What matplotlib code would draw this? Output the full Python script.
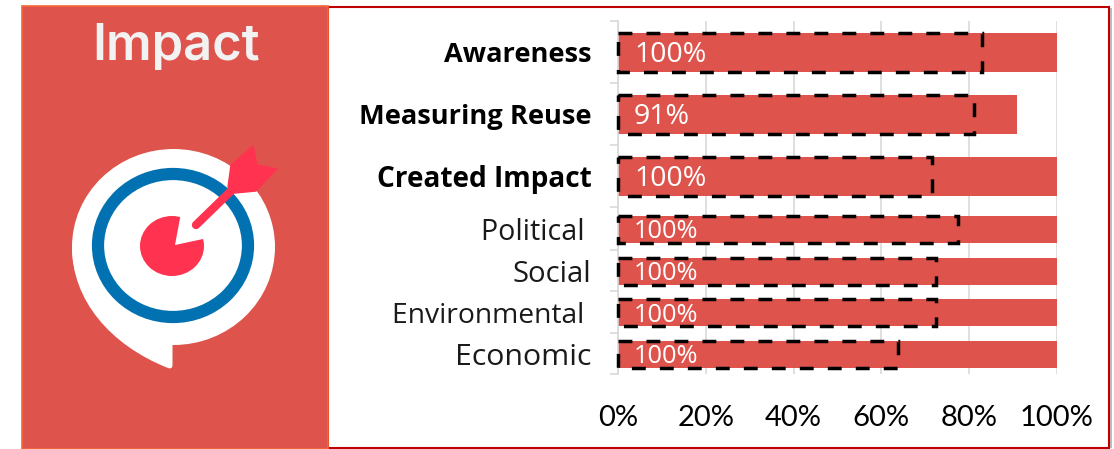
import matplotlib
matplotlib.use("Agg")
import matplotlib.pyplot as plt
from matplotlib.patches import Rectangle, Ellipse, Polygon, PathPatch
from matplotlib.path import Path

# ---- data ----
categories = ["Awareness", "Measuring Reuse", "Created Impact", "Political ", "Social", "Environmental ", "Economic"]
values = [100, 91, 100, 100, 100, 100, 100]
targets = [83, 81, 71.5, 77.5, 72.5, 72.5, 63.8]
value_labels = ["100%", "91%", "100%", "100%", "100%", "100%", "100%"]
x_ticks = [0, 20, 40, 60, 80, 100]
x_tick_labels = ["0%", "20%", "40%", "60%", "80%", "100%"]

# ---- layout (figure pixels) ----
W, H = 1114, 449
RED = "#DE544C"
centers = [52.5, 114.5, 176.5, 229, 271, 312.5, 354]
heights = [39.5, 39.5, 39.5, 27, 27, 27, 27]
boundaries = [21, 83, 145, 207, 250, 291, 333, 374]
is_bold = [True, True, True, False, False, False, False]
label_size = [19.6, 19.6, 20.2, 20.6, 21.1, 20.3, 21.8]
value_size = [20.5, 20.5, 20.5, 18.3, 18.3, 18.3, 18.3]

fig = plt.figure(figsize=(W / 100, H / 100), dpi=100, facecolor="white")

# background layer in pixel coordinates: panel, frame, icon
bg = fig.add_axes([0, 0, 1, 1], zorder=0)
bg.set_xlim(0, W)
bg.set_ylim(H, 0)
bg.axis("off")

bg.add_patch(Rectangle((1110, 8), 2, 440, fc="#BDBDBD", ec="none"))
bg.add_patch(Rectangle((328, 6.5), 781, 441, fc="white", ec="#C00000", lw=1.5))
bg.add_patch(Rectangle((21.5, 5.5), 306.5, 443, fc=RED, ec="#F4683A", lw=1.2))
bg.text(175.5, 47, "Impact", color="#F2F2F2", fontsize=36.5, fontweight="semibold",
        family="Inter", ha="center", va="center")

# icon
bubble = Path(
    [(72, 247), (72, 300), (110, 345), (168, 368), (172.5, 369.5), (172.5, 365), (172.5, 345), (173, 247), (72, 247)],
    [Path.MOVETO, Path.CURVE4, Path.CURVE4, Path.CURVE4, Path.CURVE3, Path.CURVE3, Path.LINETO, Path.LINETO, Path.CLOSEPOLY],
)
bg.add_patch(Ellipse((173.5, 247), 203, 196, fc="white", ec="none"))
bg.add_patch(PathPatch(bubble, fc="white", ec="none"))
bg.add_patch(Ellipse((173, 245.5), 150, 143, fc="none", ec="#0271B1", lw=8.8))
PINK = "#FF3350"
bg.add_patch(Ellipse((172, 246), 64, 60, fc=PINK, ec="none"))
bg.add_patch(Polygon([(175, 245), (181, 213), (210, 237.5)], fc="white", ec="none"))
bg.plot([196, 232], [225, 190], color=PINK, lw=6.0, solid_capstyle="round")
bg.add_patch(Polygon([(253, 146), (257, 165), (277, 169), (256, 191), (235, 193),
                      (228, 187), (231, 165)], fc=PINK, ec=PINK, lw=1, joinstyle="round"))

# chart
ax = fig.add_axes([618 / W, 1 - 374 / H, 439 / W, 353 / H], zorder=1)
ax.patch.set_alpha(0)
ax.set_xlim(0, 100)
ax.set_ylim(374, 21)
ax.barh(centers, values, height=heights, color=RED, zorder=2)
for c, t, h in zip(centers, targets, heights):
    ax.add_patch(Rectangle((0, c - h / 2), t, h, fill=False, ec="black", lw=2.5,
                           ls=(0, (4.0, 4.06)), zorder=3, clip_on=False))
for c, lab, fs in zip(centers, value_labels, value_size):
    ax.annotate(lab, (0, c), xytext=(11.5, -2), textcoords="offset points", color="white",
                fontsize=fs, family="Open Sans", ha="left", va="center", zorder=4)

for s in ["top", "right", "bottom"]:
    ax.spines[s].set_visible(False)
ax.spines["left"].set_color("#D9D9D9")
ax.spines["left"].set_linewidth(1.2)
ax.grid(axis="x", color="#D9D9D9", lw=1.2, zorder=1)
ax.set_axisbelow(True)
ax.set_xticks(x_ticks)
ax.set_xticklabels(x_tick_labels, fontsize=21, family="Lato", color="black")
ax.tick_params(axis="x", length=0, pad=22)
ax.set_yticks(boundaries, minor=True)
ax.tick_params(axis="y", which="minor", length=6, width=1.2, color="#D9D9D9")
ax.set_yticks(centers)
ax.set_yticklabels(categories)
ax.tick_params(axis="y", which="major", length=0, pad=19)
for tl, b, fs in zip(ax.get_yticklabels(), is_bold, label_size):
    tl.set_family("Open Sans")
    tl.set_fontsize(fs)
    tl.set_fontweight("bold" if b else "normal")
    tl.set_color("black" if b else "#1A1A1A")

fig.savefig("out.png", dpi=100)
